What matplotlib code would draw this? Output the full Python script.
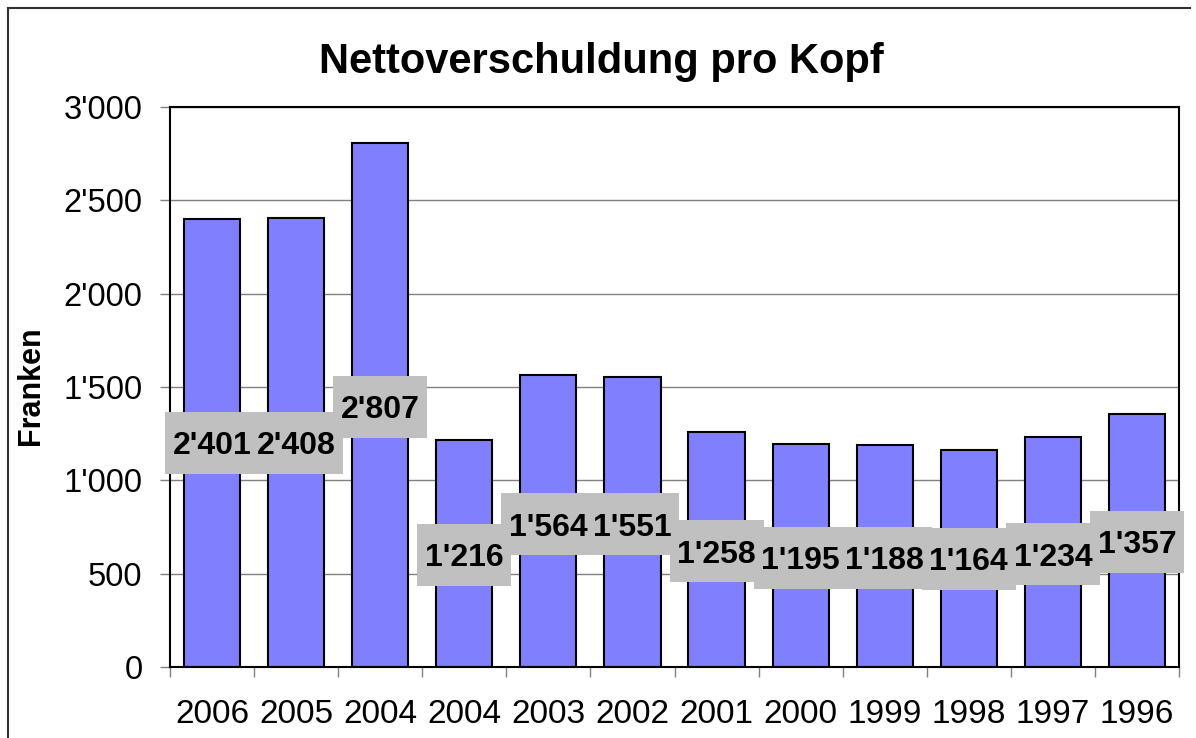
import matplotlib
matplotlib.use("Agg")
import matplotlib.pyplot as plt
import matplotlib.transforms as mtransforms
from matplotlib.patches import Rectangle
from matplotlib.lines import Line2D
from matplotlib.ticker import FuncFormatter, FixedLocator
import numpy as np

# ---- data ----
categories = ["2006", "2005", "2004", "2004", "2003", "2002", "2001", "2000", "1999", "1998", "1997", "1996"]
values = [2401, 2408, 2807, 1216, 1564, 1551, 1258, 1195, 1188, 1164, 1234, 1357]
label_texts = ["2'401", "2'408", "2'807", "1'216", "1'564", "1'551", "1'258", "1'195", "1'188", "1'164", "1'234", "1'357"]
# layout: vertical position (data units) of each data-label box centre
label_y = [1200, 1200, 1393, 600, 766, 766, 621, 584, 584, 579, 605, 670]
title = "Nettoverschuldung pro Kopf"
ylabel = "Franken"
yticks = [0, 500, 1000, 1500, 2000, 2500, 3000]

plt.rcParams['font.family'] = ['Liberation Sans', 'DejaVu Sans']

W, H = 1196, 738
fig = plt.figure(figsize=(W / 100, H / 100), dpi=100)
ax = fig.add_axes([170 / W, 1 - 667 / H, (1179 - 170) / W, (667 - 107) / H])

x = np.arange(len(values))
ax.bar(x, values, width=0.667, color="#8080FF", edgecolor="black", linewidth=1.5, zorder=3)

ax.set_xlim(-0.5, len(values) - 0.5)
ax.set_ylim(0, 3000)

# y axis
ax.yaxis.set_major_locator(FixedLocator(yticks))
ax.yaxis.set_major_formatter(FuncFormatter(lambda v, p: f"{int(v):,}".replace(",", "'")))
ax.tick_params(axis="y", which="major", length=7.2, width=1, color="#808080",
               labelsize=23.5, pad=12.5)
ax.grid(axis="y", color="#808080", linewidth=1, zorder=0)

# x axis: labels at centres, tick marks at boundaries
ax.set_xticks(x)
ax.set_xticklabels(categories)
ax.tick_params(axis="x", which="major", length=0, labelsize=24, pad=23)
ax.set_xticks(np.arange(len(values) + 1) - 0.5, minor=True)
ax.tick_params(axis="x", which="minor", length=7.2, width=1, color="#808080")

for s in ax.spines.values():
    s.set_color("black")
    s.set_linewidth(1.5)
    s.set_zorder(4)

ax.set_ylabel(ylabel, fontsize=22, fontweight="bold")
ax.yaxis.set_label_coords(-124 / (1179 - 170), (667 - 386) / 560)

fig.text(0.5025, 1 - 62 / H, title, ha="center", va="center", fontsize=30, fontweight="bold")

# data labels with grey boxes (fixed pixel-size boxes)
bw, bh = 94, 62
for xi, ly, t in zip(x, label_y, label_texts):
    tr = mtransforms.Affine2D() + mtransforms.ScaledTranslation(xi, ly, ax.transData)
    ax.add_patch(Rectangle((-bw / 2, -bh / 2), bw, bh, transform=tr, facecolor="#C0C0C0",
                           edgecolor="none", zorder=5, clip_on=False))
for xi, ly, t in zip(x, label_y, label_texts):
    ax.text(xi, ly, t, ha="center", va="center_baseline", fontsize=23, fontweight="bold",
            zorder=6, clip_on=False)

# outer chart border (left and top visible)
fig.add_artist(Line2D([8 / W, 8 / W], [0, 1 - 8 / H], transform=fig.transFigure,
                      color="#303030", linewidth=1.5))
fig.add_artist(Line2D([8 / W, 1190 / W], [1 - 8 / H, 1 - 8 / H], transform=fig.transFigure,
                      color="#303030", linewidth=1.5))

fig.savefig("out.png", dpi=100)
